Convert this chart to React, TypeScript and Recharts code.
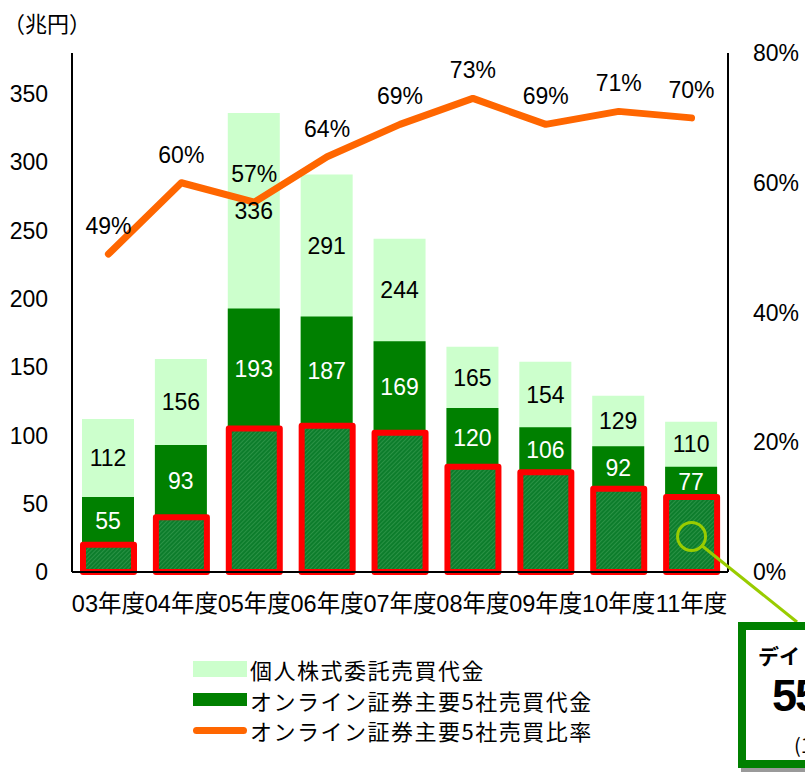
import React from 'react'
import {
  Bar,
  ComposedChart,
  LabelList,
  Line,
  ReferenceDot,
  XAxis,
  YAxis,
} from 'recharts'

const categories = ['03年度', '04年度', '05年度', '06年度', '07年度', '08年度', '09年度', '10年度', '11年度']
const individualTrading = [112, 156, 336, 291, 244, 165, 154, 129, 110]
const onlineTrading = [55, 93, 193, 187, 169, 120, 106, 92, 77]
const dayTrading = [20, 40, 105, 107, 102, 77, 73, 61, 55]
const onlineShare = [0.49, 0.6, 0.57, 0.64, 0.69, 0.73, 0.69, 0.71, 0.7]
const leftTicks = [0, 50, 100, 150, 200, 250, 300, 350]
const rightTicks = [0, 0.2, 0.4, 0.6, 0.8]

const data = categories.map((cat, i) => ({
  cat,
  total: individualTrading[i],
  online: onlineTrading[i],
  day: dayTrading[i],
  share: onlineShare[i],
}))

const FONT = '"Liberation Sans", Arial, "Noto Sans CJK JP", sans-serif'
const JP = '"Noto Sans CJK JP", "Liberation Sans", sans-serif'
const LIGHT = '#CCFFCC'
const DARK = '#008000'
const ORANGE = '#FF6600'
const LIME = '#99CC00'

// label centred in the visible light part (between online top and total top)
const TotalLabel = (props: any) => {
  const { x, y, width, height, index } = props
  const bottom = y + height
  const onlineY = bottom - height * (onlineTrading[index] / individualTrading[index])
  return (
    <text x={x + width / 2} y={(y + onlineY) / 2} dy="0.355em" textAnchor="middle"
      fontSize={23} fontFamily={FONT} fill="#000">
      {individualTrading[index]}
    </text>
  )
}

// label centred in the visible dark part (between day-trade top and online top)
const OnlineLabel = (props: any) => {
  const { x, y, width, height, index } = props
  const bottom = y + height
  const dayY = bottom - height * (dayTrading[index] / onlineTrading[index])
  return (
    <text x={x + width / 2} y={(y + dayY) / 2} dy="0.355em" textAnchor="middle"
      fontSize={23} fontFamily={FONT} fill="#fff">
      {onlineTrading[index]}
    </text>
  )
}

export default function App() {
  return (
    <div style={{ position: 'fixed', left: 0, top: 0, width: 805, height: 775, overflow: 'hidden', background: '#fff' }}>
      <div style={{ position: 'absolute', left: 3, top: 6, fontSize: 22, fontFamily: JP, color: '#000' }}>（兆円）</div>

      <ComposedChart width={805} height={775} data={data}
        margin={{ top: 53, right: 0, bottom: 163, left: 0 }}>
        <defs>
          <pattern id="hatch" width="3" height="3" patternUnits="userSpaceOnUse" patternTransform="rotate(45)">
            <rect width="3" height="3" fill="#0d7d2c" />
            <line x1="0" y1="0" x2="0" y2="3" stroke="#3da055" strokeWidth="1.2" />
          </pattern>
        </defs>
        <XAxis xAxisId="a" dataKey="cat" height={40} tickLine={false}
          axisLine={{ stroke: '#000', strokeWidth: 2 }} tickMargin={17}
          tick={{ fill: '#000', fontSize: 23.5, fontFamily: FONT }} interval={0} />
        <XAxis xAxisId="b" dataKey="cat" hide />
        <XAxis xAxisId="c" dataKey="cat" hide />
        <YAxis yAxisId="left" width={72} domain={[0, 380]} ticks={leftTicks}
          tickLine={false} axisLine={{ stroke: '#000', strokeWidth: 2 }} tickMargin={18}
          tick={{ fill: '#000', fontSize: 23, fontFamily: FONT }} />
        <YAxis yAxisId="right" orientation="right" width={77} domain={[0, 0.8]} ticks={rightTicks}
          tickLine={false} axisLine={{ stroke: '#000', strokeWidth: 2 }} tickMargin={19}
          tickFormatter={(v) => `${Math.round(v * 100)}%`}
          tick={{ fill: '#000', fontSize: 23, fontFamily: FONT }} />

        <Bar xAxisId="a" yAxisId="left" dataKey="total" fill={LIGHT} barSize={52} isAnimationActive={false}>
          <LabelList dataKey="total" content={TotalLabel} />
        </Bar>
        <Bar xAxisId="b" yAxisId="left" dataKey="online" fill={DARK} barSize={52} isAnimationActive={false}>
          <LabelList dataKey="online" content={OnlineLabel} />
        </Bar>
        <Bar xAxisId="c" yAxisId="left" dataKey="day" fill="url(#hatch)" stroke="#FF0000" strokeWidth={6}
          strokeLinejoin="round" barSize={51} isAnimationActive={false} />

        <Line xAxisId="a" yAxisId="right" dataKey="share" stroke={ORANGE} strokeWidth={7}
          strokeLinecap="round" strokeLinejoin="round" dot={false} isAnimationActive={false}>
          <LabelList dataKey="share" position="top" offset={20} fill="#000" fontSize={23} fontFamily={FONT}
            formatter={(v: any) => `${Math.round(Number(v) * 100)}%`} />
        </Line>

        <ReferenceDot xAxisId="a" yAxisId="left" x="11年度" y={26} r={14} fill="none"
          stroke={LIME} strokeWidth={3} ifOverflow="visible" />
      </ComposedChart>

      {/* connector from the circled bar to the callout */}
      <svg style={{ position: 'absolute', left: 0, top: 0 }} width={805} height={775}>
        <line x1={701} y1={545} x2={797} y2={622} stroke={LIME} strokeWidth={3} />
      </svg>

      {/* callout box (cut by the page edge, as in the source) */}
      <div style={{
        position: 'absolute', left: 738, top: 622, width: 220, height: 146, boxSizing: 'border-box',
        border: `8px solid ${DARK}`, background: '#fff', boxShadow: '3px 4px 0 #9a9a9a',
      }} />
      <div style={{ position: 'absolute', left: 758, top: 640, fontSize: 21, fontWeight: 'bold', fontFamily: JP, whiteSpace: 'nowrap' }}>
        デイトレード
      </div>
      <div style={{ position: 'absolute', left: 772, top: 670, fontSize: 45, fontWeight: 'bold', fontFamily: FONT, whiteSpace: 'nowrap', letterSpacing: -2 }}>
        55%
      </div>
      <div style={{ position: 'absolute', left: 794, top: 730, fontSize: 20, fontFamily: JP, whiteSpace: 'nowrap' }}>
        (11年度)
      </div>

      {/* legend */}
      <div style={{ position: 'absolute', left: 193, top: 654, fontFamily: JP, fontSize: 22, letterSpacing: 1.5, color: '#000' }}>
        <div style={{ display: 'flex', alignItems: 'center', height: 30 }}>
          <span style={{ display: 'inline-block', width: 54, height: 16, background: LIGHT, marginRight: 3 }} />
          個人株式委託売買代金
        </div>
        <div style={{ display: 'flex', alignItems: 'center', height: 31 }}>
          <span style={{ display: 'inline-block', width: 54, height: 13, background: DARK, marginRight: 3 }} />
          オンライン証券主要5社売買代金
        </div>
        <div style={{ display: 'flex', alignItems: 'center', height: 30 }}>
          <span style={{ display: 'inline-block', width: 54, height: 7, background: ORANGE, borderRadius: 4, marginRight: 3 }} />
          オンライン証券主要5社売買比率
        </div>
      </div>
    </div>
  )
}
